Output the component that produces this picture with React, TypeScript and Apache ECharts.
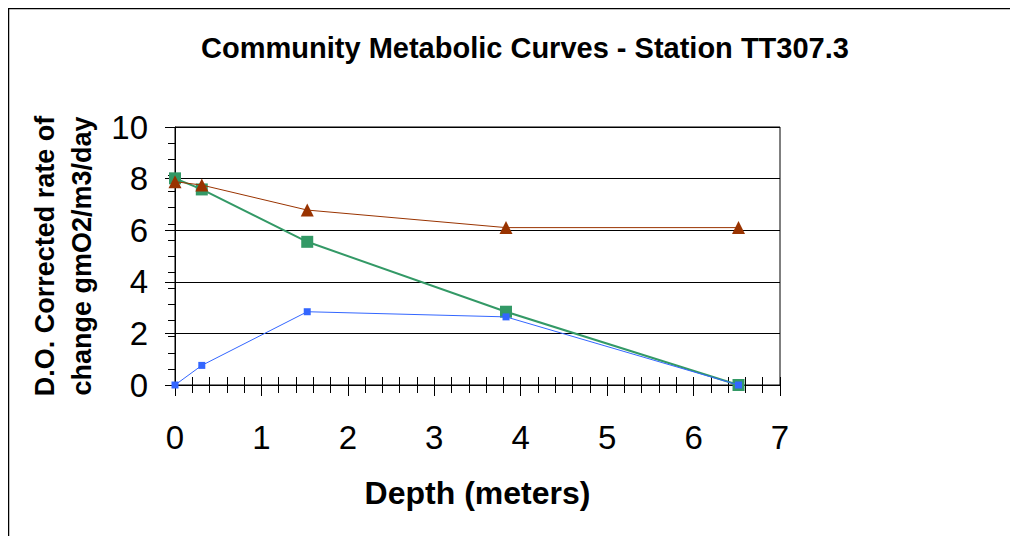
import React, { useEffect, useRef } from "react";
import * as echarts from "echarts";

const depthsTriangle = [0, 0.31, 1.53, 3.83, 6.52];
const valuesTriangle = [7.88, 7.75, 6.78, 6.1, 6.1];
const depthsGreen = [0, 0.31, 1.53, 3.83, 6.52];
const valuesGreen = [8.01, 7.58, 5.55, 2.84, 0];
const depthsBlue = [0, 0.31, 1.53, 3.83, 6.52];
const valuesBlue = [0, 0.76, 2.84, 2.64, 0];
const xTicks = [0, 1, 2, 3, 4, 5, 6, 7];
const yTicks = [0, 2, 4, 6, 8, 10];

const FONT = "Liberation Sans, Arial, sans-serif";

const pairs = (xs: number[], ys: number[]) => xs.map((x, i) => [x, ys[i]]);

export default function App() {
  const ref = useRef<HTMLDivElement>(null);
  useEffect(() => {
    if (!ref.current) return;
    const chart = echarts.init(ref.current, undefined, { renderer: "svg" });
    const grid = { left: 167, right: 238, top: 119, bottom: 151, show: true, borderColor: "#000", borderWidth: 1, backgroundColor: "transparent" };
    chart.setOption({
      animation: false,
      backgroundColor: "#fff",
      title: {
        text: "Community Metabolic Curves - Station TT307.3",
        left: 512,
        textAlign: "center",
        top: 20,
        textStyle: { fontFamily: FONT, fontWeight: "bold", fontSize: 29, color: "#000" },
      },
      graphic: [
        { type: "rect", shape: { x: 0.5, y: 0.5, width: 1200, height: 1200 }, style: { fill: "none", stroke: "#000", lineWidth: 1.5 }, silent: true, z: 0 },
      ],
      grid,
      xAxis: [
        {
          type: "value",
          min: xTicks[0],
          max: xTicks[xTicks.length - 1],
          interval: 1,
          name: "Depth (meters)",
          nameLocation: "middle",
          nameGap: 92,
          nameTextStyle: { fontFamily: FONT, fontWeight: "bold", fontSize: 32, color: "#000" },
          axisLine: { lineStyle: { color: "#000", width: 1 } },
          axisTick: { show: true, inside: false, length: 11, lineStyle: { color: "#000" } },
          minorTick: { show: true, splitNumber: 5, length: 8, lineStyle: { color: "#000" } },
          axisLabel: { fontFamily: FONT, fontSize: 33, color: "#000", margin: 36 },
          splitLine: { show: false },
        },
        {
          type: "value",
          position: "bottom",
          min: xTicks[0],
          max: xTicks[xTicks.length - 1],
          interval: 1,
          axisLine: { show: false },
          axisTick: { show: true, inside: true, length: 8, lineStyle: { color: "#000" } },
          minorTick: { show: true, splitNumber: 5, length: 8, lineStyle: { color: "#000" } },
          axisLabel: { show: false },
          splitLine: { show: false },
        },
      ],
      yAxis: [
        {
          type: "value",
          min: yTicks[0],
          max: yTicks[yTicks.length - 1],
          interval: 2,
          name: "D.O. Corrected rate of\nchange gmO2/m3/day",
          nameLocation: "middle",
          nameGap: 75,
          nameRotate: 90,
          nameTextStyle: { fontFamily: FONT, fontWeight: "bold", fontSize: 27, color: "#000", lineHeight: 37 },
          axisLine: { show: true, lineStyle: { color: "#000", width: 1 } },
          axisTick: { show: true, length: 10, lineStyle: { color: "#000" } },
          axisLabel: { fontFamily: FONT, fontSize: 33, color: "#000", margin: 27 },
          splitLine: { show: true, lineStyle: { color: "#000", width: 1 } },
        },
        {
          type: "value",
          min: 0,
          max: 10,
          interval: 0.625,
          position: "left",
          axisLine: { show: false },
          axisTick: { show: true, length: 7, lineStyle: { color: "#000" } },
          axisLabel: { show: false },
          splitLine: { show: false },
        },
      ],
      series: [
        {
          name: "Green",
          type: "line",
          data: pairs(depthsGreen, valuesGreen),
          symbol: "rect",
          symbolSize: 12,
          lineStyle: { color: "#339966", width: 2 },
          itemStyle: { color: "#339966" },
          z: 2,
        },
        {
          name: "Brown",
          type: "line",
          data: pairs(depthsTriangle, valuesTriangle),
          symbol: "triangle",
          symbolSize: 13,
          lineStyle: { color: "#993300", width: 1 },
          itemStyle: { color: "#993300" },
          z: 3,
        },
        {
          name: "Blue",
          type: "line",
          data: pairs(depthsBlue, valuesBlue),
          symbol: "rect",
          symbolSize: 7,
          lineStyle: { color: "#3366ff", width: 1 },
          itemStyle: { color: "#3366ff" },
          z: 4,
        },
      ],
    });
    return () => chart.dispose();
  }, []);
  return <div ref={ref} style={{ width: 1010, height: 528 }} />;
}
